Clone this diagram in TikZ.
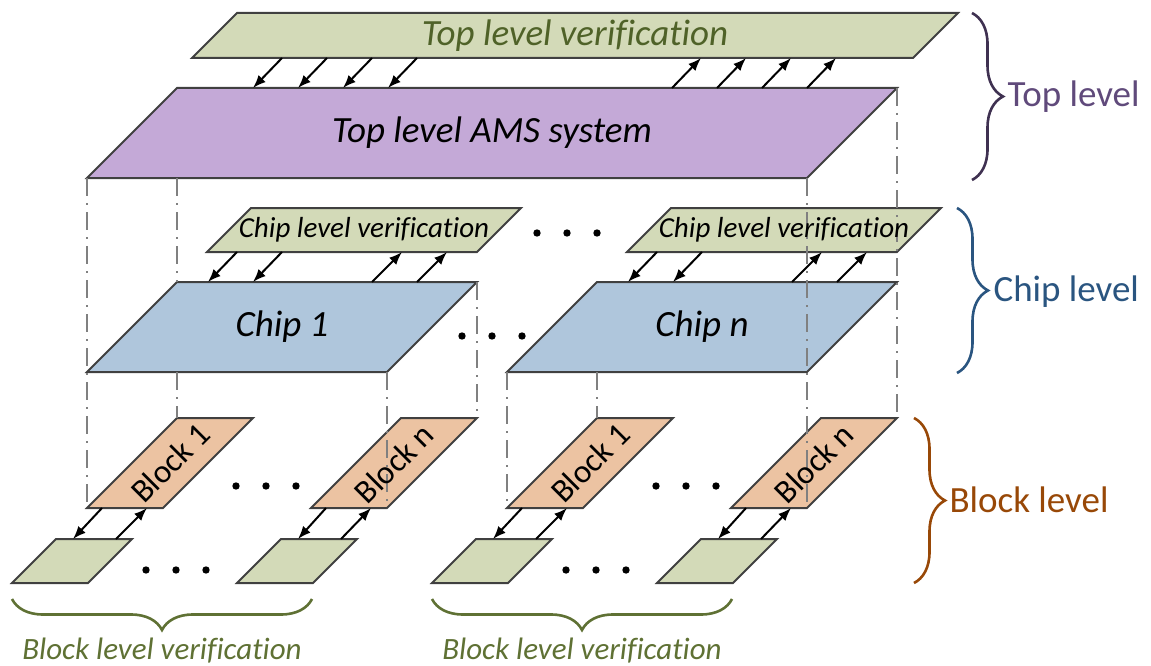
\documentclass[tikz,border=0pt]{standalone}
\usepackage{fontspec}
\setmainfont{Carlito}[Ligatures=NoCommon]
\usetikzlibrary{arrows.meta,calc,decorations.pathreplacing}
\definecolor{verifcolor}{HTML}{D3DAB8}
\definecolor{amscolor}{HTML}{C4A9D7}
\definecolor{chipcolor}{HTML}{AFC6DC}
\definecolor{blockcolor}{HTML}{ECC3A2}
\definecolor{edgecolor}{HTML}{404040}
\definecolor{olivetext}{HTML}{4F6228}
\definecolor{olivebrace}{HTML}{5F7134}
\definecolor{toptext}{HTML}{604A7B}
\definecolor{topbrace}{HTML}{3F3151}
\definecolor{chiptext}{HTML}{2A5580}
\definecolor{blocktext}{HTML}{984807}

\newcommand\lbig{\fontsize{37pt}{40pt}\selectfont}
\newcommand\lmid{\fontsize{33pt}{36pt}\selectfont}
\newcommand\lsub{\fontsize{31pt}{34pt}\selectfont}
\newcommand\lsmall{\fontsize{29pt}{32pt}\selectfont}

\tikzset{
  plane/.style={draw=edgecolor, line width=2pt},
  sig/.style={line width=2pt, -{Latex[length=13pt,width=10pt]}},
  guide/.style={draw=gray, line width=1.8pt, dash pattern=on 18pt off 7pt on 2pt off 7pt},
  lvlbrace/.style={decorate, decoration={brace, amplitude=31pt}, line width=2.6pt},
}

% slanted layer: name, fill, bottom-left corner, width, height
\newcommand\plane[5]{%
  \filldraw[plane, fill=#2] #3 coordinate (#1-bl) -- ++(#4,0) coordinate (#1-br)
    -- ++(#5,-#5) coordinate (#1-tr) -- ++(-#4,0) coordinate (#1-tl) -- cycle;}
\newcommand\threedots[2]{%
  \foreach \i in {0,1,2} \fill (#1+30*\i,#2) circle (3.7pt);}

\begin{document}
\begin{tikzpicture}[x=1pt, y=-1pt]%
\useasboundingbox (0,0) rectangle (1151,666);%
% top level
\plane{tv}{verifcolor}{(192,58)}{721}{45}%
\plane{ams}{amscolor}{(87,178)}{720}{90}%
% chip level
\plane{cva}{verifcolor}{(207,252)}{270}{44}%
\plane{cvb}{verifcolor}{(627,252)}{270}{44}%
\plane{chipa}{chipcolor}{(87,372)}{300}{90}%
\plane{chipb}{chipcolor}{(507,372)}{300}{90}%
% block level
\foreach \g/\x in {a/0, b/420} {%
  \plane{blk-\g-1}{blockcolor}{(87+\x,508)}{76}{90}%
  \plane{blk-\g-n}{blockcolor}{(311+\x,508)}{76}{90}%
  \plane{bv-\g-1}{verifcolor}{(12+\x,583)}{76}{44}%
  \plane{bv-\g-n}{verifcolor}{(237+\x,583)}{76}{44}%
}%
% box edges
\draw[guide] (ams-bl) -- (blk-a-1-bl);%
\draw[guide] (chipa-tl |- ams-bl) -- (chipa-tl);%
\draw[guide] (chipa-tl |- chipa-bl) -- (blk-a-1-tl);%
\draw[guide] (chipa-br) -- (blk-a-n-br);%
\draw[guide] (chipa-tr) -- (blk-a-n-tr);%
\draw[guide] (chipb-bl) -- (blk-b-1-bl);%
\draw[guide] (chipb-tl |- chipb-bl) -- (blk-b-1-tl);%
\draw[guide] (ams-br) -- (blk-b-n-br);%
\draw[guide] (ams-tr) -- (blk-b-n-tr);%
% signals
\foreach \d in {0,45,90,135} {%
  \draw[sig] ($(tv-bl)+(90+\d,0)$) -- ($(ams-tl)+(76+\d,0)$);%
  \draw[sig] ($(ams-tl)+(495+\d,0)$) -- ($(tv-bl)+(509+\d,0)$);%
}%
\foreach \c in {a,b} \foreach \d in {0,45} {%
  \draw[sig] ($(cv\c-bl)+(30+\d,0)$) -- ($(chip\c-tl)+(31+\d,0)$);%
  \draw[sig] ($(chip\c-tl)+(195+\d,0)$) -- ($(cv\c-bl)+(195+\d,0)$);%
}%
\foreach \g in {a,b} \foreach \k in {1,n} {%
  \draw[sig] ($(blk-\g-\k-bl)+(15,0)$) -- ($(bv-\g-\k-tl)+(17,0)$);%
  \draw[sig] ($(bv-\g-\k-tl)+(60,0)$) -- ($(blk-\g-\k-bl)+(60,0)$);%
}%
% labels
\node[font=\lbig\itshape, text=olivetext] (tvtxt) at ($(tv-bl)!.5!(tv-tr)$) {Top level verification};%
\node[font=\lbig\itshape] (amstxt) at ($(ams-bl)!.5!(ams-tr)$) {Top level AMS system};%
\node[font=\lsmall\itshape] (cvatxt) at ($(cva-bl)!.5!(cva-tr)$) {Chip level verification};%
\node[font=\lsmall\itshape] (cvbtxt) at ($(cvb-bl)!.5!(cvb-tr)$) {Chip level verification};%
\node[font=\lbig\itshape] (chipatxt) at ($(chipa-bl)!.5!(chipa-tr)$) {Chip 1};%
\node[font=\lbig\itshape] (chipbtxt) at ($(chipb-bl)!.5!(chipb-tr)$) {Chip n};%
\foreach \g in {a,b} {%
  \node[font=\lmid, rotate=45] (blk-\g-1txt) at ($(blk-\g-1-bl)!.5!(blk-\g-1-tr)$) {Block 1};%
  \node[font=\lmid, rotate=45] (blk-\g-ntxt) at ($(blk-\g-n-bl)!.5!(blk-\g-n-tr)$) {Block n};%
}%
\threedots{537}{233}%
\threedots{462}{336}%
\threedots{236}{486}%
\threedots{656}{486}%
\threedots{146}{570}%
\threedots{566}{570}%
% level braces
\draw[lvlbrace, topbrace] (972,13) -- (972,180);%
\draw[lvlbrace, chiptext] (957,208) -- (957,373);%
\draw[lvlbrace, blocktext] (914,418) -- (914,583);%
\draw[lvlbrace, olivebrace] (312,599) -- (12,599);%
\draw[lvlbrace, olivebrace] (732,599) -- (432,599);%
\node[font=\lbig, text=toptext, anchor=west] (toplbl) at (1004,97) {Top level};%
\node[font=\lbig, text=chiptext, anchor=west] (chiplbl) at (990,292) {Chip level};%
\node[font=\lbig, text=blocktext, anchor=west] (blocklbl) at (946,500) {Block level};%
\node[font=\lsub\itshape, text=olivebrace] (bva) at (162,651) {Block level verification};%
\node[font=\lsub\itshape, text=olivebrace] (bvb) at (582,651) {Block level verification};%
\end{tikzpicture}
\end{document}
